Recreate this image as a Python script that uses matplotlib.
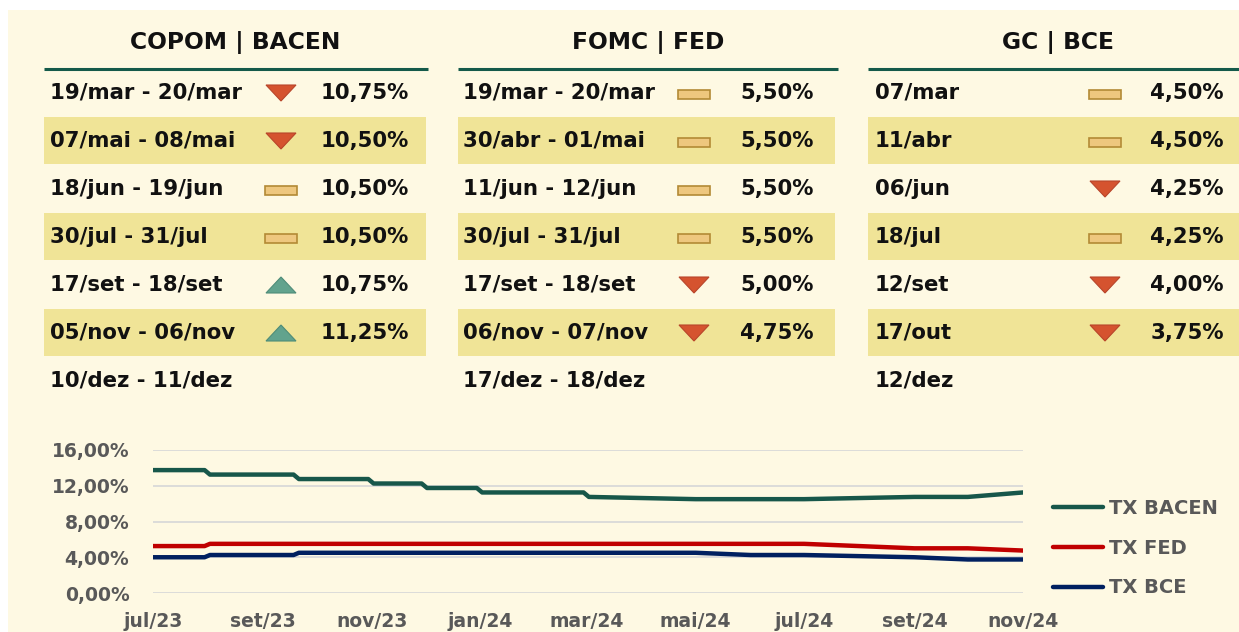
import numpy as np
import pandas as pd
import matplotlib
matplotlib.use("Agg")
import matplotlib.pyplot as plt
from matplotlib.patches import Rectangle, Polygon

# --- colours ---
CREAM = '#FEF9E3'
BAND = '#F0E497'
RULE = '#145A4A'
GRAY = '#595959'
C_BACEN = '#17574A'
C_FED = '#C00000'
C_BCE = '#002060'
DOWN_FILL, DOWN_EDGE = '#D5532F', '#B8452A'
UP_FILL, UP_EDGE = '#62A38D', '#4E8C78'
FLAT_FILL, FLAT_EDGE = '#EEC77E', '#B38A35'

plt.rcParams['font.family'] = ['DejaVu Sans']

# --- table data ---
copom_dates = ["19/mar - 20/mar", "07/mai - 08/mai", "18/jun - 19/jun", "30/jul - 31/jul",
               "17/set - 18/set", "05/nov - 06/nov", "10/dez - 11/dez"]
copom_rates = [10.75, 10.50, 10.50, 10.50, 10.75, 11.25, None]
copom_moves = ['down', 'down', 'flat', 'flat', 'up', 'up', None]

fomc_dates = ["19/mar - 20/mar", "30/abr - 01/mai", "11/jun - 12/jun", "30/jul - 31/jul",
              "17/set - 18/set", "06/nov - 07/nov", "17/dez - 18/dez"]
fomc_rates = [5.50, 5.50, 5.50, 5.50, 5.00, 4.75, None]
fomc_moves = ['flat', 'flat', 'flat', 'flat', 'down', 'down', None]

gc_dates = ["07/mar", "11/abr", "06/jun", "18/jul", "12/set", "17/out", "12/dez"]
gc_rates = [4.50, 4.50, 4.25, 4.25, 4.00, 3.75, None]
gc_moves = ['flat', 'flat', 'down', 'flat', 'down', 'down', None]

# --- line chart data ---
bacen_dates = ['2023-07-01', '2023-07-30', '2023-08-02', '2023-09-18', '2023-09-21', '2023-10-30',
               '2023-11-02', '2023-11-29', '2023-12-02', '2023-12-30', '2024-01-02', '2024-02-28',
               '2024-03-02', '2024-05-01', '2024-07-01', '2024-09-01', '2024-10-01', '2024-11-01']
bacen_vals = [13.75, 13.75, 13.25, 13.25, 12.75, 12.75, 12.25, 12.25, 11.75, 11.75, 11.25, 11.25,
              10.75, 10.50, 10.50, 10.75, 10.75, 11.25]
fed_dates = ['2023-07-01', '2023-07-30', '2023-08-02', '2024-07-01', '2024-09-01', '2024-10-01', '2024-11-01']
fed_vals = [5.25, 5.25, 5.50, 5.50, 5.00, 5.00, 4.75]
bce_dates = ['2023-07-01', '2023-07-30', '2023-08-02', '2023-09-18', '2023-09-21', '2024-05-01',
             '2024-06-01', '2024-07-01', '2024-09-01', '2024-10-01', '2024-11-01']
bce_vals = [4.00, 4.00, 4.25, 4.25, 4.50, 4.50, 4.25, 4.25, 4.00, 3.75, 3.75]

meses = ['jan', 'fev', 'mar', 'abr', 'mai', 'jun', 'jul', 'ago', 'set', 'out', 'nov', 'dez']

W, H = 1239, 632
fig = plt.figure(figsize=(W / 100, H / 100), dpi=100, facecolor='white')

# overlay in pixel coordinates
ax0 = fig.add_axes([0, 0, 1, 1])
ax0.set_xlim(0, W)
ax0.set_ylim(H, 0)
ax0.axis('off')
ax0.add_patch(Rectangle((8, 10), W - 8, H - 10, facecolor=CREAM, edgecolor='none'))

ROW0, PITCH = 93, 48
FS = 15.3


def fmt(v):
    return f"{v:.2f}%".replace('.', ',')


def icon(ax, kind, cx, cy):
    if kind == 'down':
        ax.add_patch(Polygon([(cx - 15, cy - 8), (cx + 15, cy - 8), (cx, cy + 8)],
                             facecolor=DOWN_FILL, edgecolor=DOWN_EDGE, lw=0.8))
    elif kind == 'up':
        ax.add_patch(Polygon([(cx - 15, cy + 8), (cx + 15, cy + 8), (cx, cy - 8)],
                             facecolor=UP_FILL, edgecolor=UP_EDGE, lw=0.8))
    elif kind == 'flat':
        ax.add_patch(Rectangle((cx - 16, cy - 3), 32, 9, facecolor=FLAT_FILL, edgecolor=FLAT_EDGE, lw=1.2))


panels = [
    ("COPOM | BACEN", copom_dates, copom_rates, copom_moves, 44, 426, 428, 50, 281, 365, 235),
    ("FOMC | FED", fomc_dates, fomc_rates, fomc_moves, 458, 835, 838, 463, 694, 777, 648),
    ("GC | BCE", gc_dates, gc_rates, gc_moves, 868, 1239, 1239, 875, 1105, 1187, 1058),
]

for title, dates, rates, moves, x0, x1, rx1, tx, ix, px, hx in panels:
    ax0.text(hx, 42, title, ha='center', va='center', fontsize=16.8, fontweight='bold', color='#111111')
    ax0.plot([x0, rx1], [69, 69], color=RULE, lw=2.2, solid_capstyle='butt')
    for i, d in enumerate(dates):
        cy = ROW0 + i * PITCH
        if i % 2 == 1:
            ax0.add_patch(Rectangle((x0, cy - 24), x1 - x0, 47, facecolor=BAND, edgecolor='none'))
        ax0.text(tx, cy, d, ha='left', va='center', fontsize=FS, fontweight='bold', color='#111111')
        if rates[i] is not None:
            ax0.text(px, cy, fmt(rates[i]), ha='center', va='center', fontsize=FS,
                     fontweight='bold', color='#111111')
        icon(ax0, moves[i], ix, cy)

# --- line chart ---
ax = fig.add_axes([153 / W, (H - 593) / H, 870 / W, 143 / H])
ax.set_facecolor('none')
ax.plot(pd.to_datetime(bacen_dates), bacen_vals, color=C_BACEN, lw=3.2, label='TX BACEN',
        solid_capstyle='round', solid_joinstyle='round')
ax.plot(pd.to_datetime(fed_dates), fed_vals, color=C_FED, lw=3.2, label='TX FED',
        solid_capstyle='round', solid_joinstyle='round')
ax.plot(pd.to_datetime(bce_dates), bce_vals, color=C_BCE, lw=3.2, label='TX BCE',
        solid_capstyle='round', solid_joinstyle='round')

ax.set_xlim(pd.Timestamp('2023-07-01'), pd.Timestamp('2024-11-01'))
ax.set_ylim(0, 16)
ax.set_yticks([0, 4, 8, 12, 16])
ax.set_yticklabels([fmt(v) for v in [0, 4, 8, 12, 16]])
ticks = pd.date_range('2023-07-01', '2024-11-01', freq='2MS')
ax.set_xticks(ticks)
ax.set_xticklabels([f"{meses[t.month - 1]}/{str(t.year)[2:]}" for t in ticks])
ax.grid(axis='y', color='#D9D9D9', lw=1.3)
ax.set_axisbelow(True)
for s in ax.spines.values():
    s.set_visible(False)
ax.tick_params(axis='both', length=0, colors=GRAY, labelsize=13.5)
ax.tick_params(axis='x', pad=14)
ax.tick_params(axis='y', pad=17)
for lab in ax.get_xticklabels() + ax.get_yticklabels():
    lab.set_fontweight('bold')

leg = ax.legend(loc='upper left', bbox_to_anchor=(1.026, 0.71), frameon=False, fontsize=14,
                handlelength=2.55, handletextpad=0.3, labelspacing=1.06, borderaxespad=0)
for t in leg.get_texts():
    t.set_color(GRAY)
    t.set_fontweight('bold')

fig.savefig('out.png', dpi=100, facecolor=fig.get_facecolor())
